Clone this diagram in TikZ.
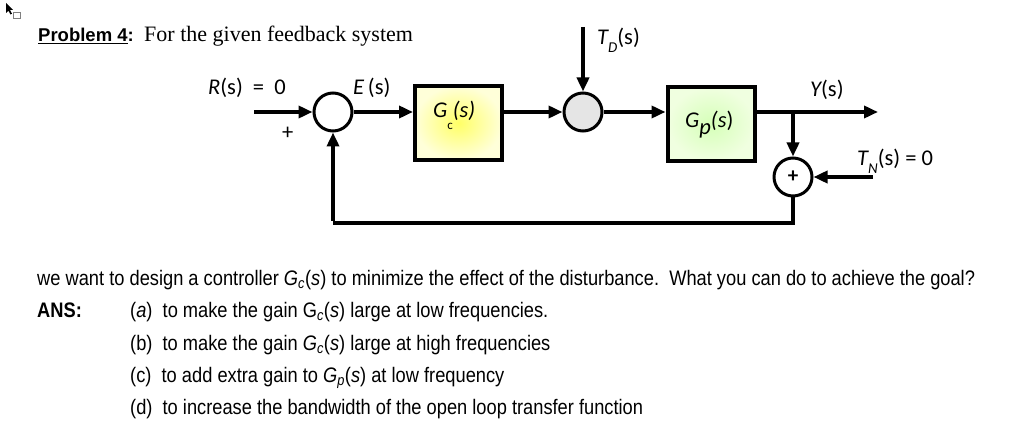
\documentclass[tikz,border=0pt]{standalone}
\usepackage{fontspec}
\setmainfont{Liberation Serif}
\newfontfamily\arialn[FakeStretch=0.87]{Liberation Sans}
\newfontfamily\arial{Liberation Sans}
\newfontfamily\calib{Carlito}
\usetikzlibrary{arrows.meta,shadings}
\begin{document}
\begin{tikzpicture}[x=1pt,y=-1pt,
  sig/.style={line width=4pt,-{Triangle[length=14pt,width=12pt]}},
  wire/.style={line width=4pt},
  sumc/.style={circle,draw,line width=3pt,minimum size=38pt,inner sep=0pt},
  blk/.style={draw,line width=4pt,minimum width=87pt,minimum height=74pt,inner sep=0pt},
  lab/.style={font=\calib\fontsize{22.5}{26}\selectfont,inner sep=0pt,anchor=base west},
  txt/.style={font=\arialn\fontsize{21}{24}\selectfont,inner sep=0pt,anchor=base west}]
\useasboundingbox (0,0) rectangle (1024,438);
\fill[white] (0,0) rectangle (1024,438);
% cursor icon
\fill[black] (6,3) -- (6,13) -- (8.5,10.8) -- (10.5,14.5) -- (12,13.7) -- (10,10) -- (13,9.8) -- cycle;
\draw[gray,line width=0.8pt] (13.5,12.5) rectangle (20,18);
% title
\node[anchor=base west,inner sep=0pt,font=\arial\bfseries\fontsize{18.5}{22}\selectfont] (title) at (38,42) {\underline{Problem 4}:};
\node[anchor=base west,inner sep=0pt,font=\fontsize{22}{26}\selectfont] (title2) at (144,42) {For the given feedback system};
% blocks
\node[sumc,fill=white] (s1) at (333,112) {};
\node[blk,shading=radial,inner color=yellow!60!white,outer color=yellow!15!white] (gc) at (458.5,123) {};
\node[sumc,fill=black!10] (s2) at (583,112) {};
\node[blk,shading=radial,inner color=green!45!lime!28!white,outer color=green!30!lime!12!white] (gp) at (711,124) {};
\node[sumc,fill=white,font=\calib\bfseries\fontsize{21}{22}\selectfont] (s3) at (793,177) {+};
% coordinates
\coordinate (rin) at (254,112);
\coordinate (td) at (583,27);
\coordinate (yout) at (878,112);
\coordinate (br) at (793,112);
\coordinate (tn) at (873,177);
\coordinate (fb) at (333,223);
% connectors
\draw[sig] (rin) -- (s1.west);
\draw[sig] (s1.east) -- (s1.east -| gc.west);
\draw[sig] (gc.east |- s2) -- (s2.west);
\draw[sig] (td) -- (s2.north);
\draw[sig] (s2.east) -- (s2.east -| gp.west);
\draw[sig] (gp.east |- s2) -- (yout);
\draw[sig] (br) -- (s3.north);
\draw[sig] (tn) -- (s3.east);
\draw[wire] (s3.south) |- (fb);
\draw[sig] ([yshift=2pt]fb) -- (s1.south);
% labels
\node[lab] (lr) at (208,95) {\itshape R\upshape(s)\hspace{0.45em}=\hspace{0.45em}0};
\node[lab] (lp) at (282,140) {+};
\node[lab] (le) at (353,95) {\itshape E\upshape\,(s)};
\node[lab] (lgc) at (433,118) {\itshape G\raisebox{-1.1ex}{\upshape\fontsize{13}{14}\selectfont c}(s)};
\node[lab] (lgp) at (685,128) {\itshape G\raisebox{-0.6ex}{p}(s\upshape)};
\node[lab] (ltd) at (597,45) {\itshape T\raisebox{-0.7ex}{\fontsize{15}{16}\selectfont D}\upshape(s)};
\node[lab] (ly) at (810,97) {\itshape Y\upshape(s)};
\node[lab] (ltn) at (857,166) {\itshape T\raisebox{-0.7ex}{\fontsize{15}{16}\selectfont N}\upshape(s) = 0};
% question text
\node[txt] (q) at (37,285) {we want to design a controller \textit{G}\textsubscript{\itshape c}(\textit{s}) to minimize the effect of the disturbance.\ \ What you can do to achieve the goal?};
\node[txt,font=\arialn\bfseries\fontsize{21}{24}\selectfont] (ans) at (37,317.5) {ANS:};
\node[txt] (a) at (130,317.5) {(\textit{a})\ \ to make the gain G\textsubscript{\itshape c}(\textit{s}) large at low frequencies.};
\node[txt] (b) at (130,350) {(b)\ \ to make the gain \textit{G}\textsubscript{\itshape c}(\textit{s}) large at high frequencies};
\node[txt] (c) at (130,382) {(c)\ \ to add extra gain to \textit{G}\textsubscript{\itshape p}(\textit{s}) at low frequency};
\node[txt] (d) at (130,414) {(d)\ \ to increase the bandwidth of the open loop transfer function};
\end{tikzpicture}
\end{document}
